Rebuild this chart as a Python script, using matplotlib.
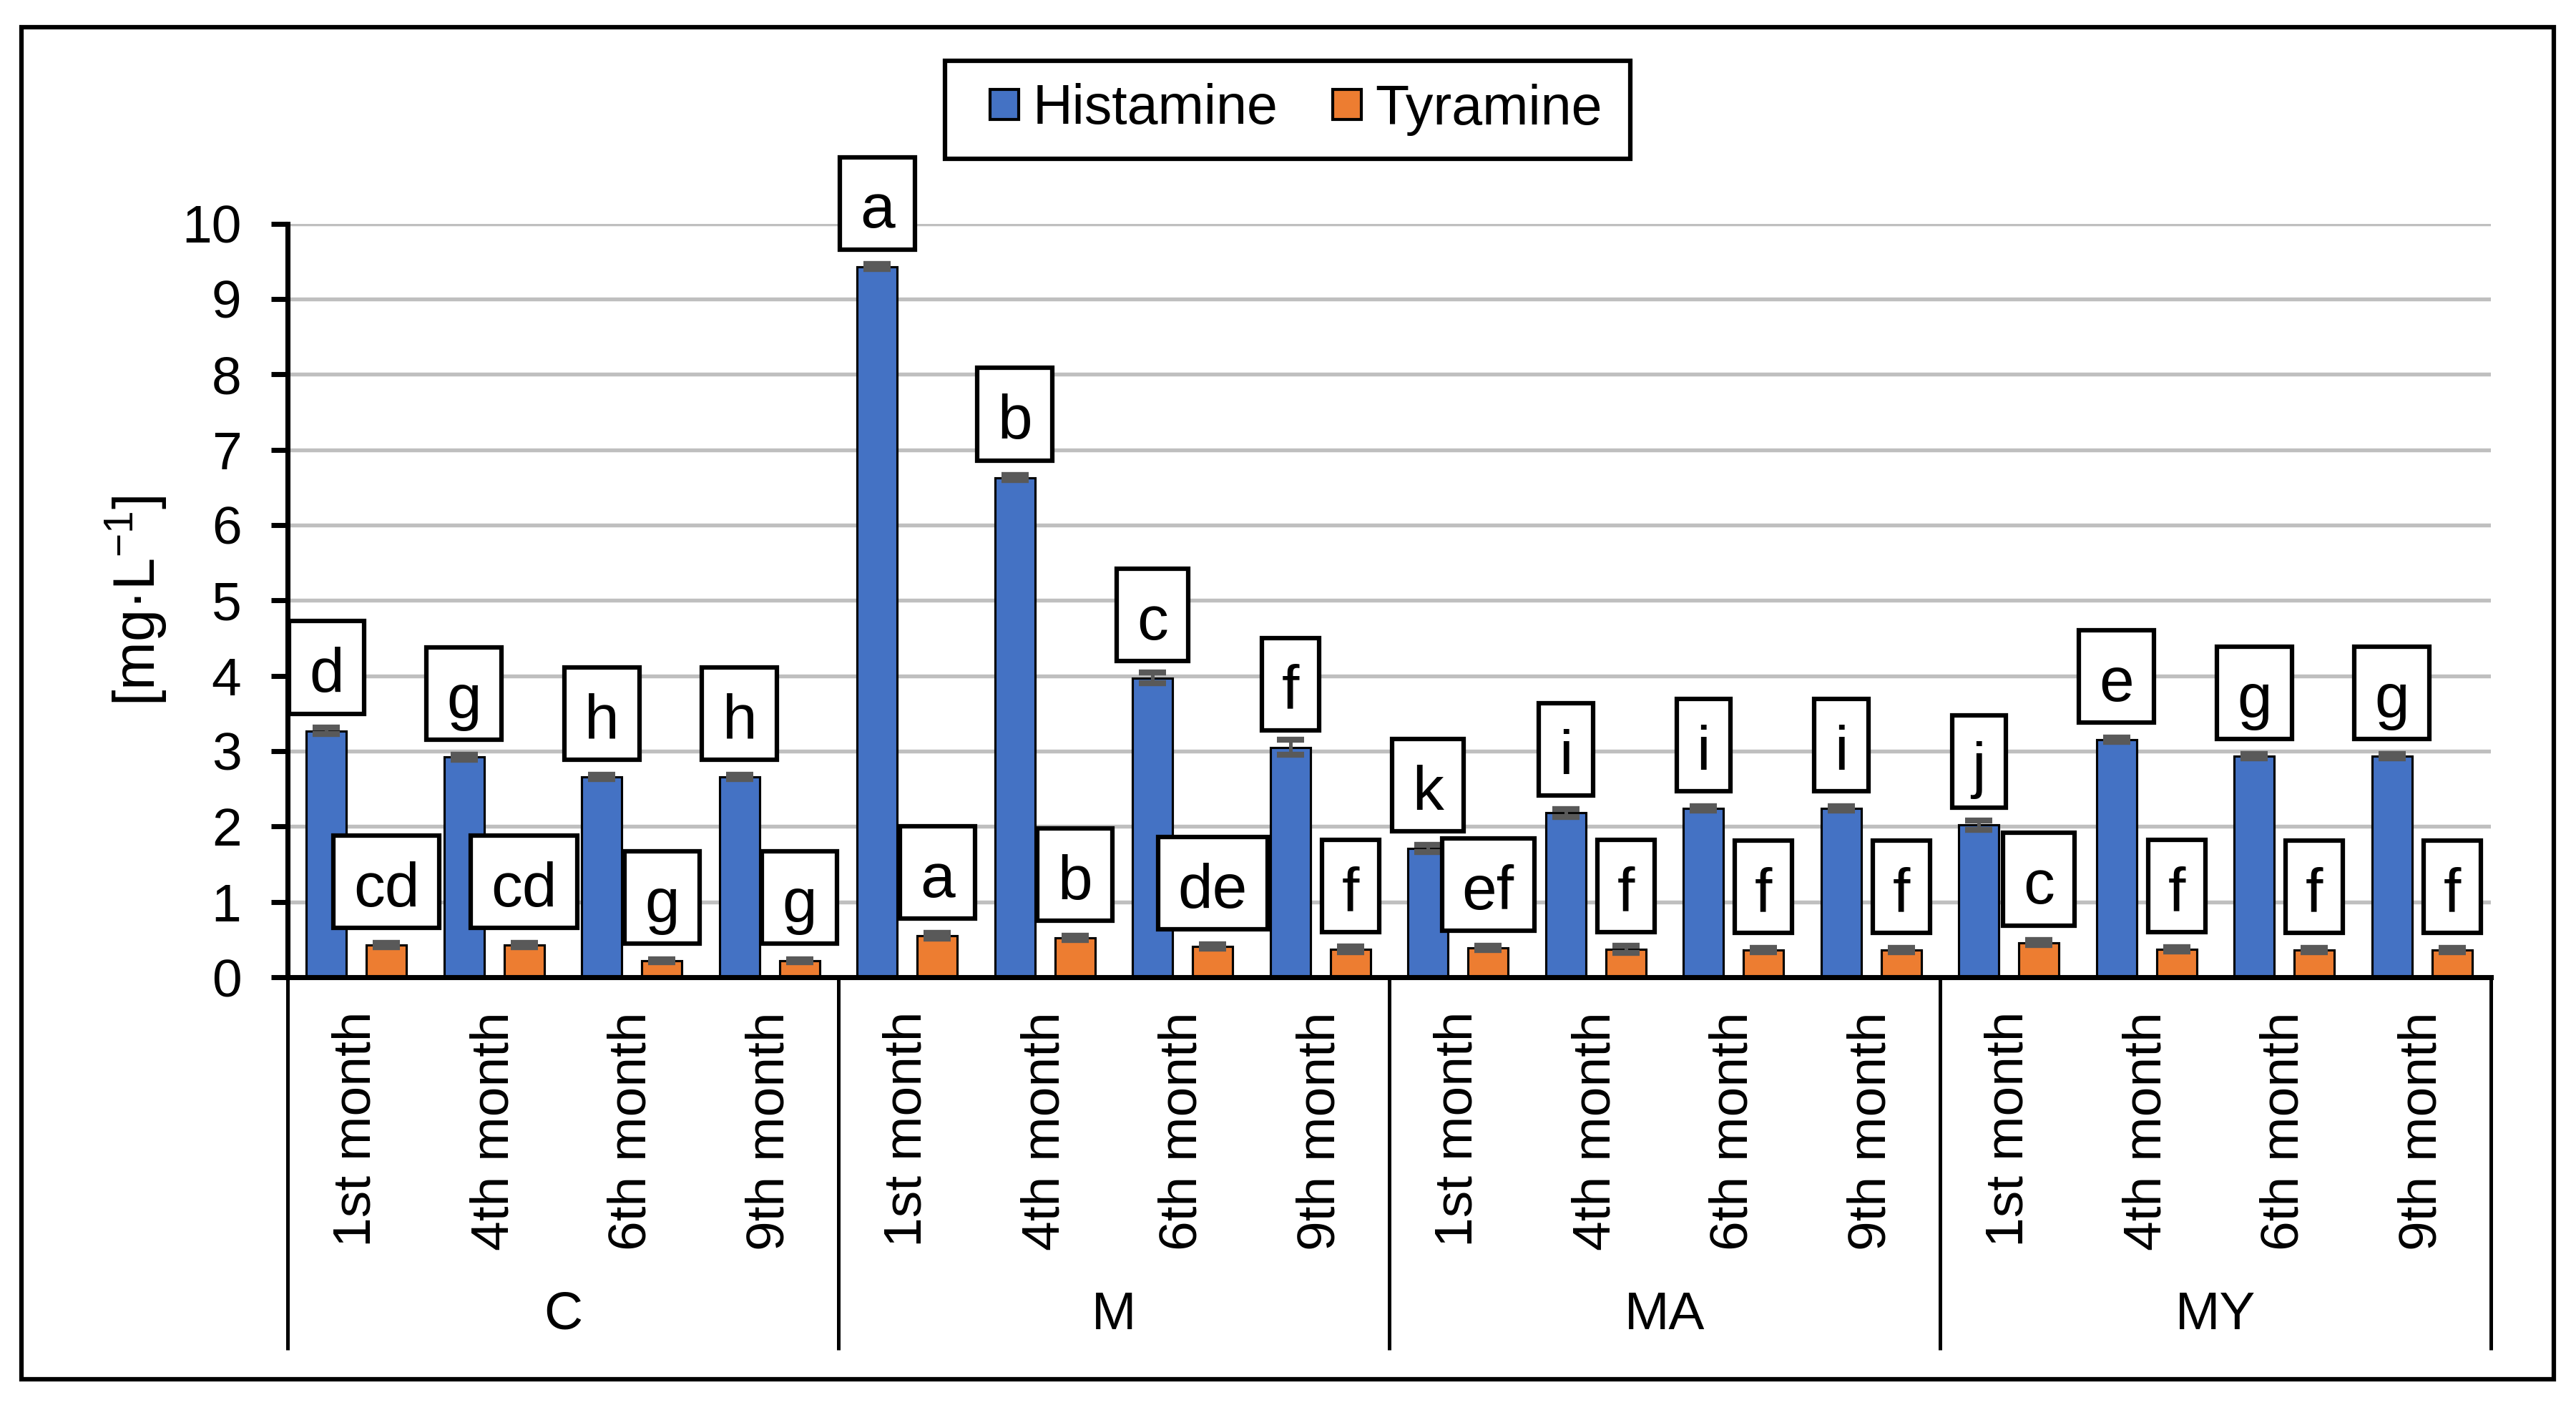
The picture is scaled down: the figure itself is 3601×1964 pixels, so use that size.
import matplotlib
matplotlib.use("Agg")
import matplotlib.pyplot as plt
import matplotlib.transforms as mtransforms
from matplotlib.patches import Patch, Rectangle
from matplotlib.path import Path
import numpy as np

plt.rcParams['font.family'] = ['Liberation Sans', 'DejaVu Sans']
plt.rcParams['mathtext.fontset'] = 'custom'
plt.rcParams['mathtext.rm'] = 'Liberation Sans'
plt.rcParams['mathtext.default'] = 'regular'

# ---------------- data ----------------
groups = ["C", "M", "MA", "MY"]
months = ["1st month", "4th month", "6th month", "9th month"]
histamine = [3.27, 2.92, 2.66, 2.66, 9.43, 6.63, 3.97, 3.05,
             1.71, 2.18, 2.24, 2.24, 2.02, 3.15, 2.93, 2.93]
histamine_err = [0.04, 0.03, 0.03, 0.03, 0.03, 0.03, 0.07, 0.10,
                 0.05, 0.05, 0.03, 0.03, 0.06, 0.03, 0.03, 0.03]
tyramine = [0.43, 0.43, 0.22, 0.22, 0.55, 0.52, 0.41, 0.37,
            0.39, 0.37, 0.36, 0.36, 0.46, 0.37, 0.36, 0.36]
tyramine_err = [0.03, 0.03, 0.02, 0.02, 0.04, 0.03, 0.03, 0.04,
                0.03, 0.05, 0.03, 0.03, 0.03, 0.03, 0.03, 0.03]
hist_letters = ["d", "g", "h", "h", "a", "b", "c", "f",
                "k", "i", "i", "i", "j", "e", "g", "g"]
tyr_letters = ["cd", "cd", "g", "g", "a", "b", "de", "f",
               "ef", "f", "f", "f", "c", "f", "f", "f"]
series_names = ["Histamine", "Tyramine"]
yticks = list(range(0, 11))

# ---------------- style ----------------
BLUE = "#4472C4"
ORANGE = "#ED7D31"
GRID = "#BFBFBF"
ERR = "#595959"

W, H = 3601, 1964
DPI = 300
fig = plt.figure(figsize=(W / DPI, H / DPI), dpi=DPI)
fig.patch.set_facecolor("white")

ax_left, ax_right = 402 / W, 3482 / W
ax_bottom, ax_top = 1 - 1366 / H, 1 - 312.5 / H
ax = fig.add_axes([ax_left, ax_bottom, ax_right - ax_left, ax_top - ax_bottom])

labels_all = [m for g in groups for m in months]
x = np.arange(len(labels_all))
off = 0.218
bw = 0.29

ax.bar(x - off, histamine, width=bw, color=BLUE, edgecolor="black", linewidth=0.75, zorder=2)
ax.bar(x + off, tyramine, width=bw, color=ORANGE, edgecolor="black", linewidth=0.75, zorder=2)
ax.errorbar(x - off, histamine, yerr=histamine_err, fmt="none", ecolor=ERR,
            elinewidth=1.2, capsize=4.6, capthick=2.0, zorder=3)
ax.errorbar(x + off, tyramine, yerr=tyramine_err, fmt="none", ecolor=ERR,
            elinewidth=1.2, capsize=4.6, capthick=2.0, zorder=3)


def label_box(x0, y0, width, height, mutation_size):
    m = mutation_size
    minw = 0.22 * m
    if width < minw:
        x0 -= (minw - width) / 2
        width = minw
    px = 0.32 * m
    pb = 0.14 * m
    pt = 0.41 * m
    verts = [(x0 - px, y0 - pb), (x0 + width + px, y0 - pb),
             (x0 + width + px, y0 + height + pt), (x0 - px, y0 + height + pt),
             (x0 - px, y0 - pb)]
    codes = [Path.MOVETO, Path.LINETO, Path.LINETO, Path.LINETO, Path.CLOSEPOLY]
    return Path(verts, codes)


for xi, v, t in zip(x - off, histamine, hist_letters):
    ax.annotate(t, xy=(xi, v), xytext=(0, 13), textcoords="offset points",
                ha="center", va="baseline", fontsize=21, zorder=5,
                bbox=dict(boxstyle=label_box, fc="white", ec="black", lw=1.5))
for xi, v, t in zip(x + off, tyramine, tyr_letters):
    ax.annotate(t, xy=(xi, v), xytext=(0, 13), textcoords="offset points",
                ha="center", va="baseline", fontsize=21, zorder=5,
                bbox=dict(boxstyle=label_box, fc="white", ec="black", lw=1.5))

ax.set_xlim(-0.5, len(labels_all) - 0.5)
ax.set_ylim(0, 10)
ax.set_yticks(yticks)
ax.set_yticklabels([str(t) for t in yticks], fontsize=18)
ax.set_xticks(x)
ax.set_xticklabels(labels_all, rotation=90, fontsize=18)
ax.tick_params(axis="x", length=0, pad=11.5)
ax.tick_params(axis="y", length=5.5, width=1.7, pad=10, direction="out")
ax.yaxis.grid(True, color=GRID, linewidth=1.3)
ax.set_axisbelow(True)
for s in ["top", "right"]:
    ax.spines[s].set_visible(False)
ax.spines["left"].set_linewidth(1.7)
ax.spines["bottom"].set_linewidth(1.7)

# multi-level category axis
trans = mtransforms.blended_transform_factory(ax.transData, ax.transAxes)
sep_bottom = -(1887 - 1366) / (1366 - 312.5)
for b in np.arange(-0.5, len(labels_all), len(months)):
    ax.plot([b, b], [0, sep_bottom], transform=trans, color="black",
            linewidth=1.2, clip_on=False, solid_capstyle="butt")
grp_y = -(1838 - 1366) / (1366 - 312.5)
for i, g in enumerate(groups):
    cx = i * len(months) + (len(months) - 1) / 2
    ax.text(cx, grp_y, g, transform=trans, ha="center", va="center", fontsize=18)

# y label
fig.text(190 / W, 1 - 840 / H, "[mg·L$^{−1}$]", rotation=90, ha="center",
         va="center", fontsize=19.5)

# legend
handles = [Patch(facecolor=BLUE, edgecolor="black", linewidth=1.0),
           Patch(facecolor=ORANGE, edgecolor="black", linewidth=1.0)]
fig.legend(handles, series_names, loc="center",
           bbox_to_anchor=(1812 / W, 1 - 153 / H), ncol=2, frameon=False,
           fontsize=18.5, handlelength=0.52, handleheight=0.47,
           handletextpad=0.25, columnspacing=1.0, borderpad=0)
fig.patches.append(Rectangle((1321 / W, 1 - 222 / H), (2279 - 1321) / W, (222 - 85) / H,
                             transform=fig.transFigure, fill=False,
                             edgecolor="black", linewidth=1.5))

# outer border
fig.patches.append(Rectangle((29.5 / W, 1 - 1928 / H), (3570 - 29.5) / W, (1928 - 38) / H,
                             transform=fig.transFigure, fill=False,
                             edgecolor="black", linewidth=1.5))

fig.savefig("out.png", dpi=DPI)
